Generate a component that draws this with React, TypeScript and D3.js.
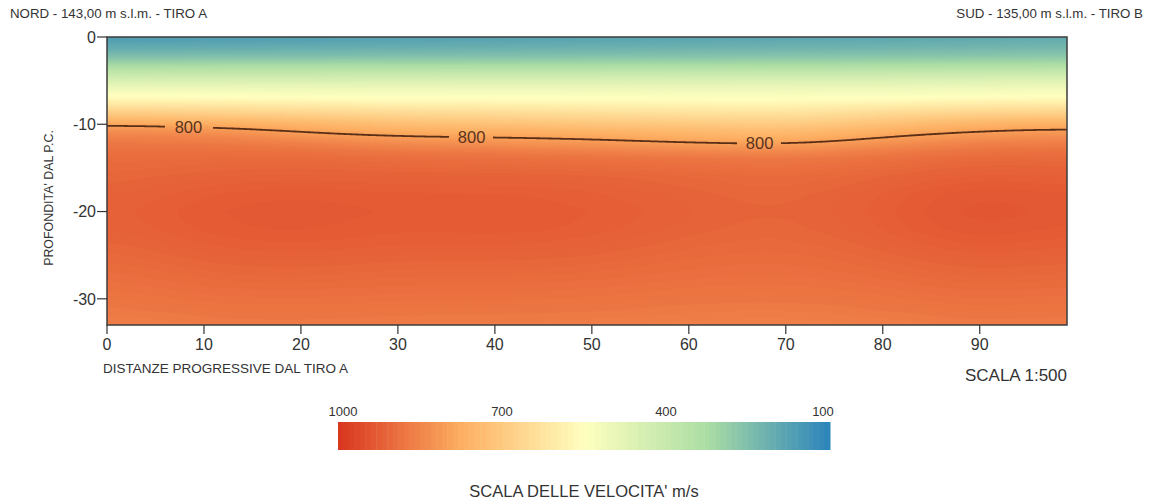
import React, { useMemo } from "react";
import * as d3 from "d3";

// ---- data ----
const distances = [0, 10, 20, 30, 40, 50, 60, 70, 80, 90, 99];
const depths = [0, -1, -2, -3, -4, -5, -6, -7, -8, -9, -10, -11, -12, -13, -14, -16, -18, -20, -22, -24, -27, -30, -33];
const velocity: number[][] = [
  [160, 163, 166, 170, 173, 176, 180, 183, 186, 190, 195],
  [190, 193, 196, 200, 203, 206, 210, 213, 216, 220, 225],
  [235, 237, 239, 241, 243, 245, 247, 250, 253, 256, 260],
  [300, 301, 302, 303, 304, 305, 306, 308, 310, 314, 318],
  [380, 381, 382, 383, 384, 385, 386, 388, 390, 394, 398],
  [450, 451, 452, 453, 454, 455, 456, 458, 460, 464, 468],
  [512, 511, 510, 509, 508, 507, 506, 506, 509, 513, 516],
  [565, 560, 555, 550, 550, 548, 545, 545, 550, 560, 562],
  [640, 630, 620, 610, 605, 600, 595, 590, 610, 625, 630],
  [715, 705, 690, 670, 665, 655, 650, 640, 670, 695, 700],
  [795, 780, 760, 730, 725, 712, 705, 690, 725, 765, 772],
  [845, 840, 805, 780, 780, 770, 752, 740, 780, 810, 822],
  [872, 870, 855, 830, 820, 812, 795, 785, 820, 855, 860],
  [888, 888, 885, 870, 865, 855, 845, 835, 862, 885, 886],
  [898, 900, 902, 895, 893, 888, 883, 875, 890, 905, 903],
  [905, 915, 918, 915, 915, 912, 905, 898, 910, 925, 918],
  [912, 925, 930, 925, 926, 922, 912, 905, 920, 938, 928],
  [915, 930, 935, 928, 930, 926, 915, 908, 922, 942, 930],
  [912, 928, 932, 925, 928, 924, 912, 905, 920, 938, 926],
  [905, 920, 925, 918, 920, 916, 905, 900, 912, 928, 918],
  [892, 905, 908, 902, 903, 900, 893, 890, 898, 910, 903],
  [878, 888, 890, 886, 886, 884, 878, 876, 882, 892, 886],
  [862, 870, 872, 868, 868, 866, 862, 860, 865, 872, 868],
];
const xTicks = [0, 10, 20, 30, 40, 50, 60, 70, 80, 90];
const yTicks = [0, -10, -20, -30];
const legendTicks = [1000, 700, 400, 100];
const contourLevel = 800;
const contourLabelX = [8.4, 37.6, 67.3];
const colorStops = [1000, 775, 550, 325, 100];
const colorRange = ["#d8341f", "#fdae61", "#ffffbf", "#abdda4", "#2b83ba"];
const titleLeft = "NORD - 143,00 m s.l.m. - TIRO A";
const titleRight = "SUD - 135,00 m s.l.m. - TIRO B";
const yTitle = "PROFONDITA' DAL P.C.";
const xTitle = "DISTANZE PROGRESSIVE DAL TIRO A";
const scaleNote = "SCALA 1:500";
const legendTitle = "SCALA DELLE VELOCITA' m/s";

// ---- layout ----
const W = 1155;
const H = 499;
const P = { left: 107, right: 1067, top: 37, bottom: 325 };
const LEG = { left: 338, right: 830, top: 422, bottom: 450 };
const FONT = "'Liberation Sans', Arial, Helvetica, sans-serif";
const TXT = "#333";

export default function App() {
  const x = d3.scaleLinear().domain([0, 99]).range([P.left, P.right]);
  const y = d3.scaleLinear().domain([0, -33]).range([P.top, P.bottom]);
  const color = d3.scaleLinear<string>().domain(colorStops).range(colorRange).interpolate(d3.interpolateRgb).clamp(true);
  const legX = d3.scaleLinear().domain([1000, 100]).range([LEG.left, LEG.right]);

  const { bands, line, labels } = useMemo(() => {
    const nx = 240;
    const ny = 180;
    const colIdx = d3.scaleLinear().domain(distances).range(d3.range(distances.length)).clamp(true);
    const rowIdx = d3.scaleLinear().domain(depths).range(d3.range(depths.length)).clamp(true);
    const sample = (dx: number, dd: number) => {
      const fi = colIdx(dx);
      const fj = rowIdx(dd);
      const i0 = Math.min(Math.floor(fi), distances.length - 2);
      const j0 = Math.min(Math.floor(fj), depths.length - 2);
      const tx = fi - i0;
      const ty = fj - j0;
      const a = velocity[j0][i0] * (1 - tx) + velocity[j0][i0 + 1] * tx;
      const b = velocity[j0 + 1][i0] * (1 - tx) + velocity[j0 + 1][i0 + 1] * tx;
      return a * (1 - ty) + b * ty;
    };
    const gx = (i: number) => ((i + 0.5) / nx) * 99;
    const gd = (j: number) => -((j + 0.5) / ny) * 33;
    const values = new Float64Array(nx * ny);
    for (let j = 0; j < ny; j++) for (let i = 0; i < nx; i++) values[j * nx + i] = sample(gx(i), gd(j));
    d3.blur2({ data: values, width: nx, height: ny }, 9, 1);

    const thresholds = d3.range(100, 1000, 5);
    const contours = d3.contours().size([nx, ny]).thresholds(thresholds)(Array.from(values));
    const pw = P.right - P.left;
    const ph = P.bottom - P.top;
    const proj = d3.geoTransform({
      point(px: number, py: number) {
        (this as any).stream.point(P.left + (px / nx) * pw, P.top + (py / ny) * ph);
      },
    });
    const path = d3.geoPath(proj);
    const bands = contours.map((c) => ({ d: path(c as any) || "", fill: color(c.value + 2.5) }));

    // 800 isoline
    const pts: [number, number][] = [];
    for (let i = 0; i < nx; i++) {
      for (let j = 0; j < ny - 1; j++) {
        const v0 = values[j * nx + i];
        const v1 = values[(j + 1) * nx + i];
        if (v0 < contourLevel && v1 >= contourLevel) {
          const t = (contourLevel - v0) / (v1 - v0);
          pts.push([gx(i), gd(j) + (gd(j + 1) - gd(j)) * t]);
          break;
        }
      }
    }
    pts.unshift([0, pts[0][1]]);
    pts.push([99, pts[pts.length - 1][1]]);
    const depthAt = (dx: number) => {
      const k = d3.bisector((p: [number, number]) => p[0]).left(pts, dx);
      const a = pts[Math.max(0, k - 1)];
      const b = pts[Math.min(pts.length - 1, k)];
      if (b[0] === a[0]) return a[1];
      return a[1] + ((b[1] - a[1]) * (dx - a[0])) / (b[0] - a[0]);
    };
    const gap = 2.2;
    const segs: [number, number][][] = [];
    let cur: [number, number][] = [];
    for (const p of pts) {
      const inGap = contourLabelX.some((lx) => Math.abs(p[0] - lx) < gap);
      if (inGap) {
        if (cur.length) segs.push(cur);
        cur = [];
      } else cur.push(p);
    }
    if (cur.length) segs.push(cur);
    const gen = d3.line<[number, number]>().x((p) => x(p[0])).y((p) => y(p[1])).curve(d3.curveBasis);
    const line = segs.map((s) => gen(s) || "");
    const labels = contourLabelX.map((lx) => ({ x: x(lx), y: y(depthAt(lx)) }));
    return { bands, line, labels };
  }, []);

  const legendSteps = d3.range(1000, 100, -10);

  return (
    <svg width={W} height={H} style={{ position: "absolute", left: 0, top: 0, background: "#fff" }} fontFamily={FONT}>
      <rect x={0} y={0} width={W} height={H} fill="#fff" />
      <text x={10} y={18} fontSize={13.3} fill={TXT}>{titleLeft}</text>
      <text x={1143} y={18} fontSize={13.3} fill={TXT} textAnchor="end">{titleRight}</text>

      {/* heatmap */}
      <rect x={P.left} y={P.top} width={P.right - P.left} height={P.bottom - P.top} fill={color(100)} />
      <g>
        {bands.map((b, i) => (
          <path key={i} d={b.d} fill={b.fill} stroke="none" />
        ))}
      </g>
      {/* isoline */}
      <g>
        {line.map((d, i) => (
          <path key={i} d={d} fill="none" stroke="#5a2f17" strokeWidth={1.8} />
        ))}
        {labels.map((l, i) => (
          <text key={i} x={l.x} y={l.y} dy="0.36em" textAnchor="middle" fontSize={16.5} fill="#5a321c">
            {contourLevel}
          </text>
        ))}
      </g>
      <rect x={P.left} y={P.top} width={P.right - P.left} height={P.bottom - P.top} fill="none" stroke="#3c3c3c" strokeWidth={1.5} />

      {/* y axis */}
      {yTicks.map((t) => (
        <g key={t}>
          <line x1={P.left - 10} x2={P.left} y1={y(t)} y2={y(t)} stroke={TXT} strokeWidth={1.2} />
          <text x={P.left - 11} y={y(t)} dy="0.36em" textAnchor="end" fontSize={16} fill={TXT}>{t}</text>
        </g>
      ))}
      <text transform={`translate(53,198) rotate(-90)`} textAnchor="middle" fontSize={12.4} fill={TXT}>{yTitle}</text>

      {/* x axis */}
      {xTicks.map((t) => (
        <g key={t}>
          <line x1={x(t)} x2={x(t)} y1={P.bottom} y2={P.bottom + 9} stroke={TXT} strokeWidth={1.2} />
          <text x={x(t)} y={350} textAnchor="middle" fontSize={16} fill={TXT}>{t}</text>
        </g>
      ))}
      <text x={103} y={373} fontSize={13.5} fill={TXT}>{xTitle}</text>
      <text x={1067} y={381} fontSize={17} fill={TXT} textAnchor="end">{scaleNote}</text>

      {/* legend */}
      <g>
        {legendSteps.map((v) => (
          <rect key={v} x={legX(v)} y={LEG.top} width={Math.abs(legX(v - 10) - legX(v)) + 0.5} height={LEG.bottom - LEG.top} fill={color(v - 5)} />
        ))}
        {legendTicks.map((t) => (
          <text key={t} x={legX(t) + (t === 1000 ? 5 : t === 100 ? -7 : 0)} y={416} textAnchor="middle" fontSize={13} fill={TXT}>{t}</text>
        ))}
        <text x={(LEG.left + LEG.right) / 2} y={497} textAnchor="middle" fontSize={16.5} fill={TXT}>{legendTitle}</text>
      </g>
    </svg>
  );
}
